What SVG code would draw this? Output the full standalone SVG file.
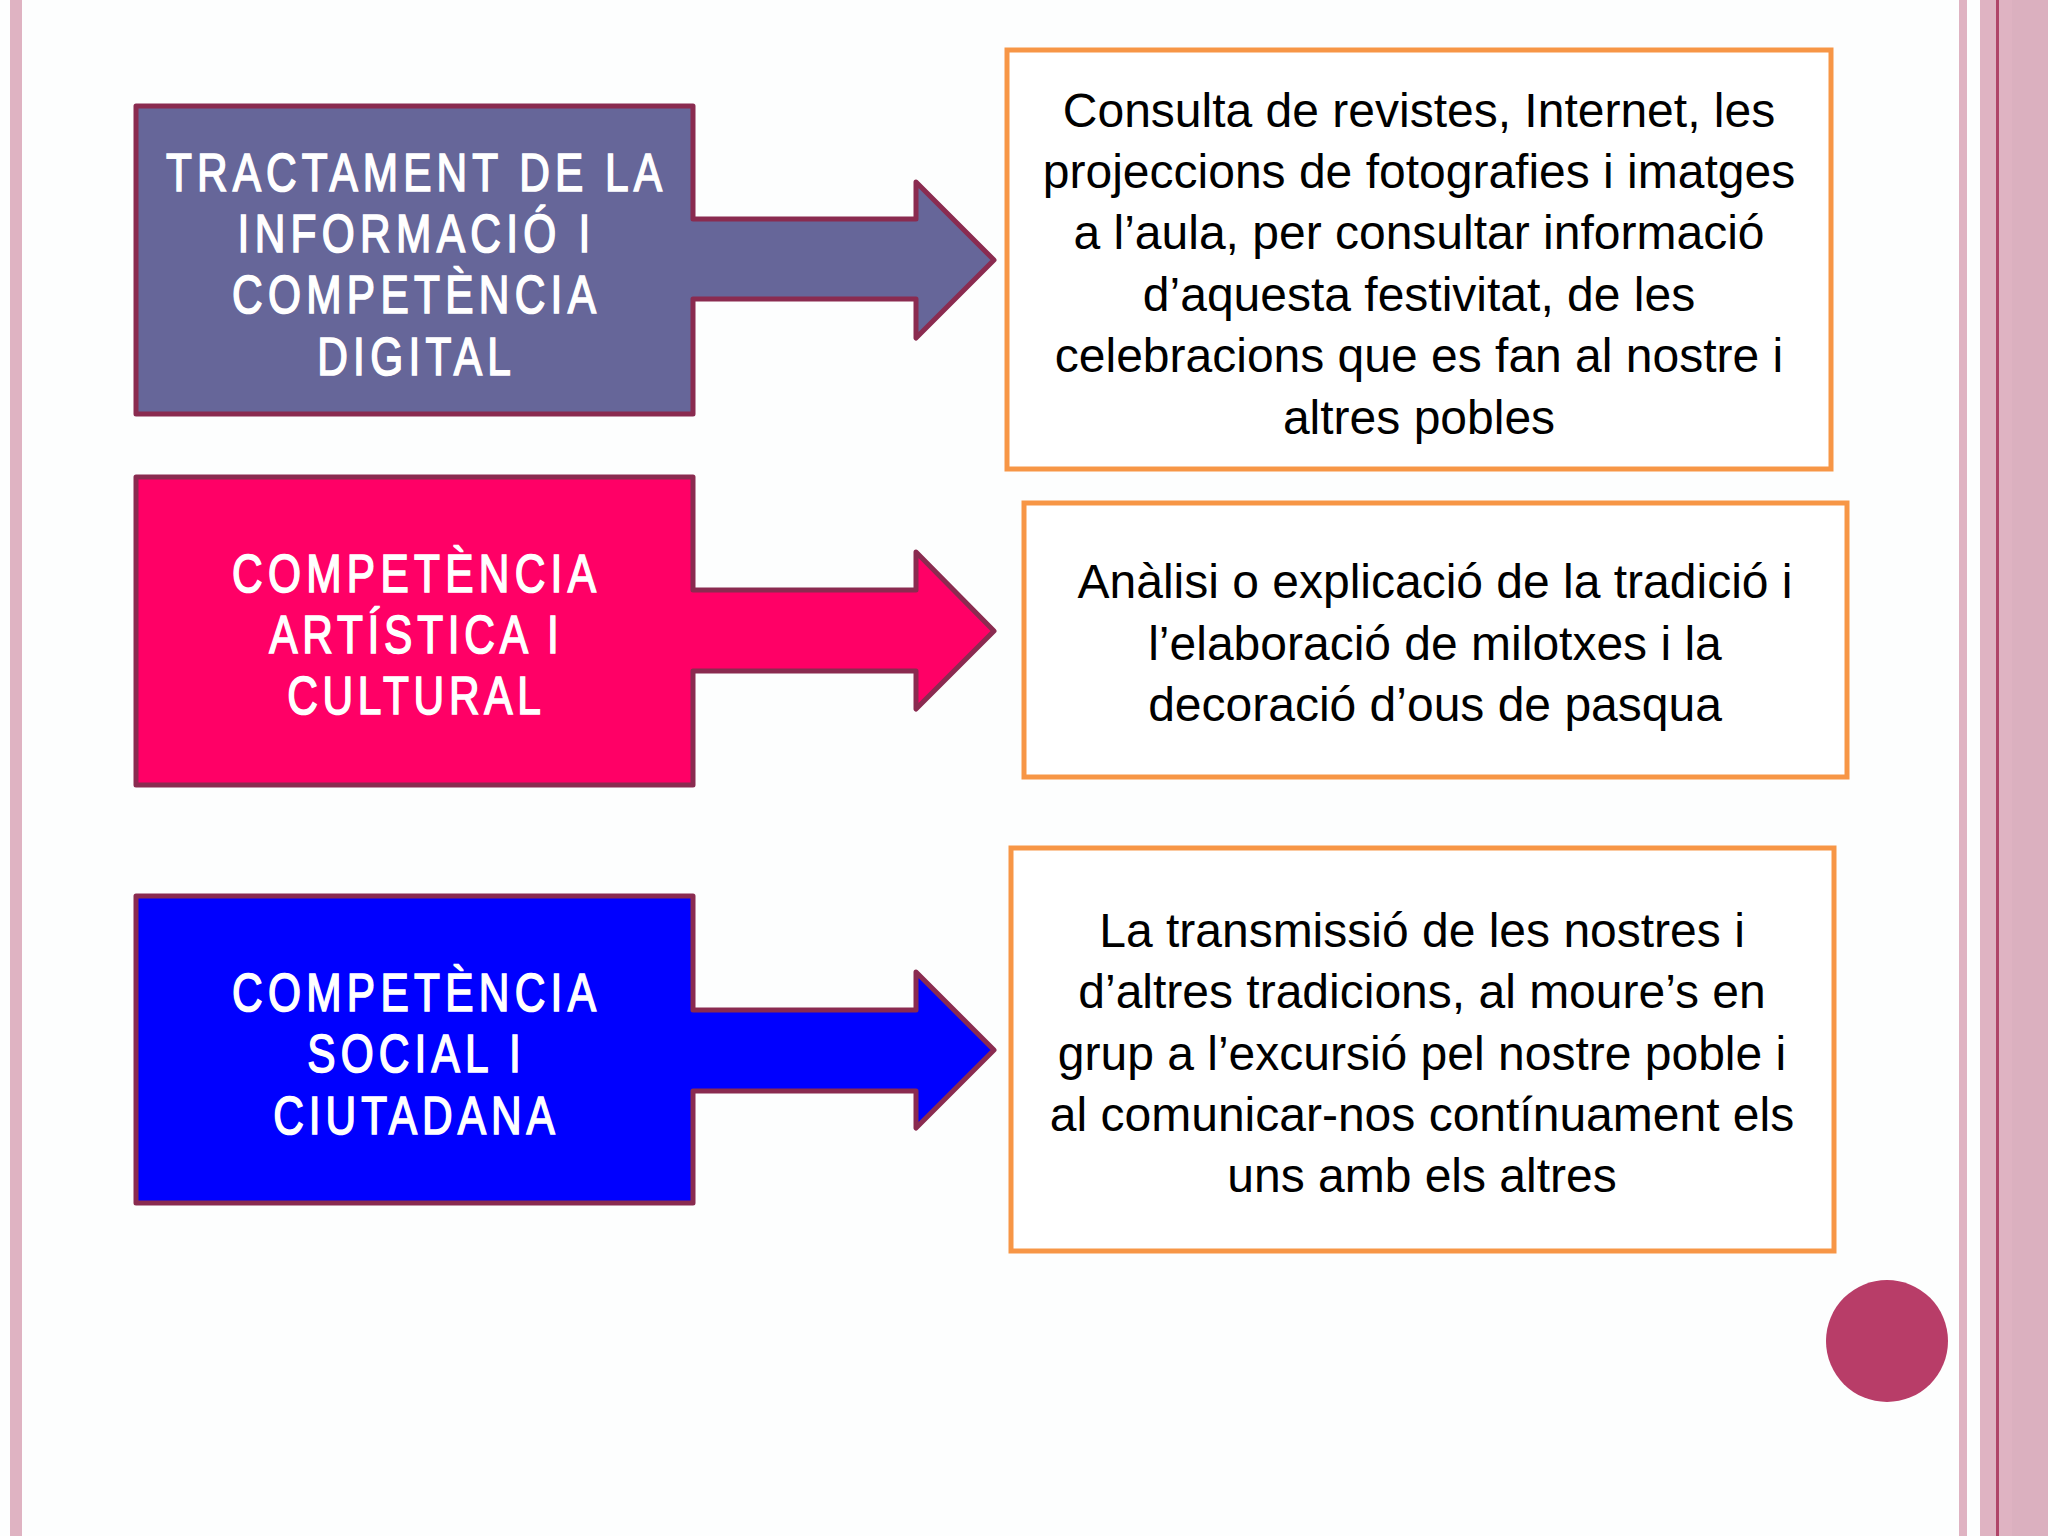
<svg xmlns="http://www.w3.org/2000/svg" width="2048" height="1536" viewBox="0 0 2048 1536">
<style>
.bg{fill:#fdfefe}
.strip{fill:#dfb3c2}
.callout{stroke:#8a2b50;stroke-width:5;stroke-linejoin:round}
.ltxt{font-family:"Liberation Sans",Arial,sans-serif;font-size:53px;fill:#ffffff;stroke:#ffffff;stroke-width:1.6px;text-anchor:middle}
.tbox{fill:#ffffff;stroke:#f79646;stroke-width:5}
.rtxt{font-family:"Liberation Sans",Arial,sans-serif;font-size:48px;fill:#000000;text-anchor:middle}
</style>
<rect class="bg" x="0" y="0" width="2048" height="1536"/>
<rect class="strip" x="10" y="0" width="12" height="1536"/>
<rect class="strip" x="1959" y="0" width="8" height="1536"/>
<rect class="strip" x="1980" y="0" width="68" height="1536"/>
<rect x="2012" y="0" width="36" height="1536" fill="#dbb0bf"/>
<rect x="1996" y="0" width="3" height="1536" fill="#b04468"/>

<g id="node-tractament">
<path class="callout" fill="#666699" d="M136,106 H693 V219 H916 V182 L994,260 L916,338 V299 H693 V414 H136 Z"/>
<text class="ltxt" transform="translate(414,191) scale(0.8,1)" textLength="620" lengthAdjust="spacing">TRACTAMENT DE LA</text>
<text class="ltxt" transform="translate(414,252) scale(0.8,1)" textLength="441" lengthAdjust="spacing">INFORMACIÓ I</text>
<text class="ltxt" transform="translate(414,313) scale(0.8,1)" textLength="455" lengthAdjust="spacing">COMPETÈNCIA</text>
<text class="ltxt" transform="translate(414,375) scale(0.8,1)" textLength="242" lengthAdjust="spacing">DIGITAL</text>
</g>

<g id="node-artistica">
<path class="callout" fill="#ff0066" d="M136,477 H693 V590 H916 V552 L994,631 L916,709 V671 H693 V785 H136 Z"/>
<text class="ltxt" transform="translate(414,592) scale(0.8,1)" textLength="455" lengthAdjust="spacing">COMPETÈNCIA</text>
<text class="ltxt" transform="translate(414,653) scale(0.8,1)" textLength="362" lengthAdjust="spacing">ARTÍSTICA I</text>
<text class="ltxt" transform="translate(414,714) scale(0.8,1)" textLength="317" lengthAdjust="spacing">CULTURAL</text>
</g>

<g id="node-social">
<path class="callout" fill="#0000ff" d="M136,896 H693 V1010 H916 V972 L994,1050 L916,1128 V1091 H693 V1203 H136 Z"/>
<text class="ltxt" transform="translate(414,1011) scale(0.8,1)" textLength="455" lengthAdjust="spacing">COMPETÈNCIA</text>
<text class="ltxt" transform="translate(414,1072) scale(0.8,1)" textLength="267" lengthAdjust="spacing">SOCIAL I</text>
<text class="ltxt" transform="translate(414,1134) scale(0.8,1)" textLength="352" lengthAdjust="spacing">CIUTADANA</text>
</g>

<g id="node-consulta">
<rect class="tbox" x="1007" y="50" width="824" height="419"/>
<text class="rtxt" x="1419" y="127">Consulta de revistes, Internet, les</text>
<text class="rtxt" x="1419" y="188">projeccions de fotografies i imatges</text>
<text class="rtxt" x="1419" y="249">a l’aula, per consultar informació</text>
<text class="rtxt" x="1419" y="311">d’aquesta festivitat, de les</text>
<text class="rtxt" x="1419" y="372">celebracions que es fan al nostre i</text>
<text class="rtxt" x="1419" y="434">altres pobles</text>
</g>

<g id="node-analisi">
<rect class="tbox" x="1024" y="503" width="823" height="274"/>
<text class="rtxt" x="1435" y="598">Anàlisi o explicació de la tradició i</text>
<text class="rtxt" x="1435" y="660">l’elaboració de milotxes i la</text>
<text class="rtxt" x="1435" y="721">decoració d’ous de pasqua</text>
</g>

<g id="node-transmissio">
<rect class="tbox" x="1011" y="848" width="823" height="403"/>
<text class="rtxt" x="1422" y="947">La transmissió de les nostres i</text>
<text class="rtxt" x="1422" y="1008">d’altres tradicions, al moure’s en</text>
<text class="rtxt" x="1422" y="1070">grup a l’excursió pel nostre poble i</text>
<text class="rtxt" x="1422" y="1131">al comunicar-nos contínuament els</text>
<text class="rtxt" x="1422" y="1192">uns amb els altres</text>
</g>

<g id="connectors"></g>

<circle cx="1887" cy="1341" r="61" fill="#b83d68"/>
</svg>
